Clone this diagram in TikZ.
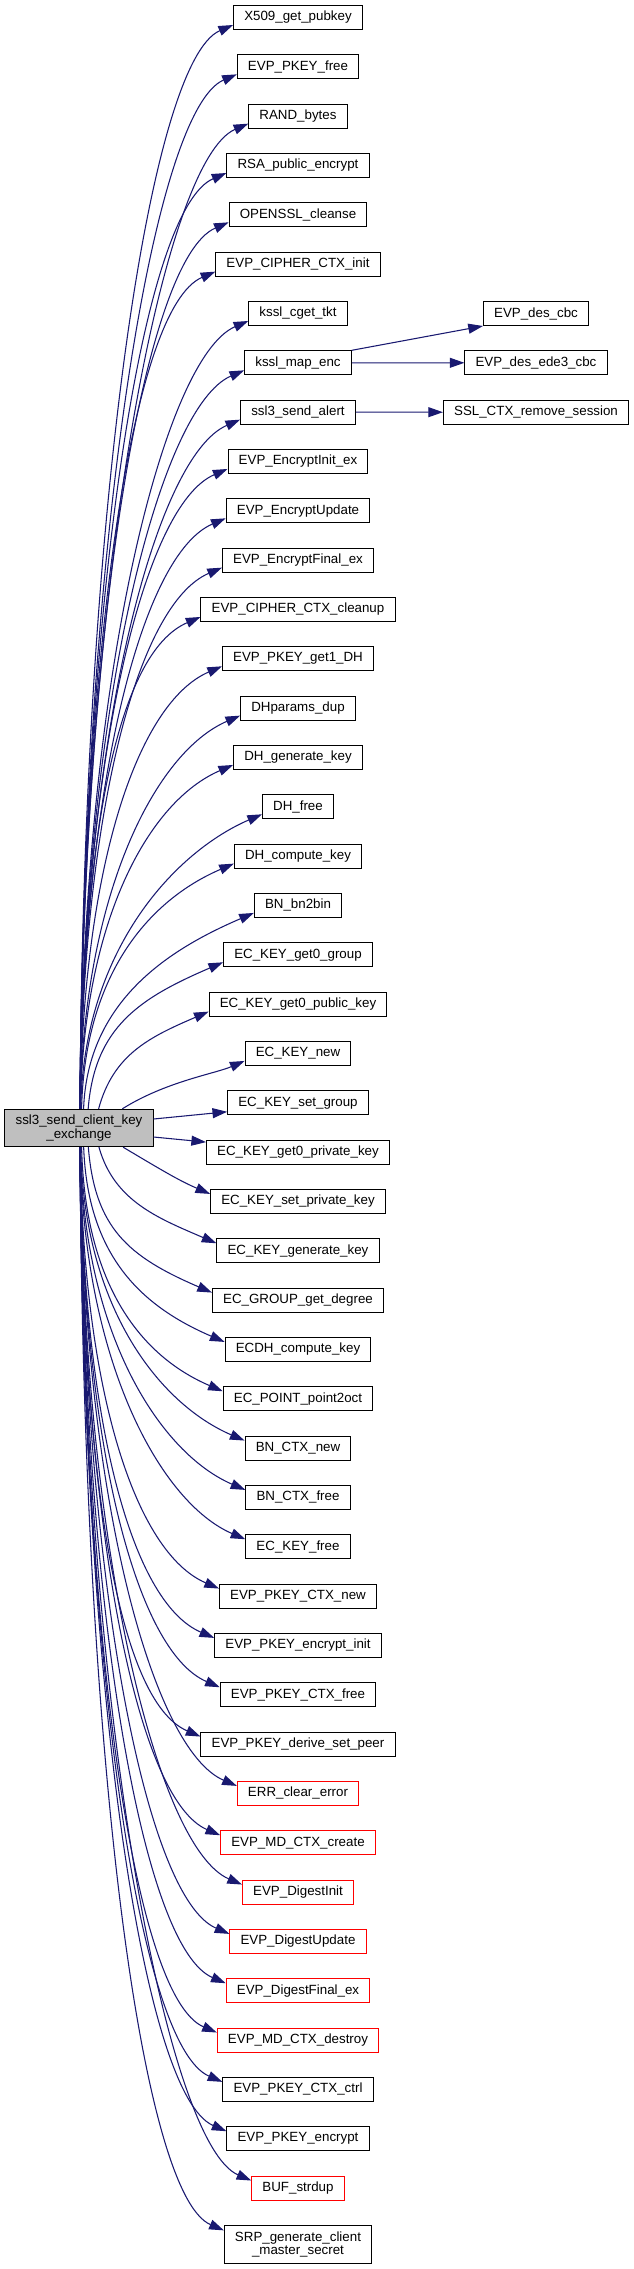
\documentclass[tikz,border=0pt]{standalone}
\usepackage{fontspec}
\setmainfont{Liberation Sans}
\usetikzlibrary{arrows.meta,calc}

\definecolor{navy}{RGB}{25,25,112}
\tikzset{
	fn/.style={draw=black, line width=0.75pt, minimum height=18pt, inner xsep=8pt, inner ysep=1pt, font=\fontsize{10pt}{10pt}\selectfont},
	fnred/.style={fn, draw=red},
	fntwo/.style={fn, align=center, minimum height=28pt},
	fnmain/.style={fntwo, fill=gray!50},
	call/.style={draw=navy, line width=0.8pt, -{Triangle[length=11pt,width=7.5pt]}},
}

\begin{document}
\begin{tikzpicture}[x=0.75pt, y=-0.75pt]
	\useasboundingbox (0,0) rectangle (634,2269);
	
	\node[fnmain] (main) at (79,1128) {ssl3\_send\_client\_key\\\_exchange};
	
	% callees, one column
	\foreach \t/\s [count=\i] in {X509\_get\_pubkey/fn, EVP\_PKEY\_free/fn, RAND\_bytes/fn,
		RSA\_public\_encrypt/fn, OPENSSL\_cleanse/fn, EVP\_CIPHER\_CTX\_init/fn, kssl\_cget\_tkt/fn,
		kssl\_map\_enc/fn, ssl3\_send\_alert/fn, EVP\_EncryptInit\_ex/fn, EVP\_EncryptUpdate/fn,
		EVP\_EncryptFinal\_ex/fn, EVP\_CIPHER\_CTX\_cleanup/fn, EVP\_PKEY\_get1\_DH/fn, DHparams\_dup/fn,
		DH\_generate\_key/fn, DH\_free/fn, DH\_compute\_key/fn, BN\_bn2bin/fn, EC\_KEY\_get0\_group/fn,
		EC\_KEY\_get0\_public\_key/fn, EC\_KEY\_new/fn, EC\_KEY\_set\_group/fn, EC\_KEY\_get0\_private\_key/fn,
		EC\_KEY\_set\_private\_key/fn, EC\_KEY\_generate\_key/fn, EC\_GROUP\_get\_degree/fn,
		ECDH\_compute\_key/fn, EC\_POINT\_point2oct/fn, BN\_CTX\_new/fn, BN\_CTX\_free/fn, EC\_KEY\_free/fn,
		EVP\_PKEY\_CTX\_new/fn, EVP\_PKEY\_encrypt\_init/fn, EVP\_PKEY\_CTX\_free/fn,
		EVP\_PKEY\_derive\_set\_peer/fn, ERR\_clear\_error/fnred, EVP\_MD\_CTX\_create/fnred,
		EVP\_DigestInit/fnred, EVP\_DigestUpdate/fnred, EVP\_DigestFinal\_ex/fnred,
		EVP\_MD\_CTX\_destroy/fnred, EVP\_PKEY\_CTX\_ctrl/fn, EVP\_PKEY\_encrypt/fn, BUF\_strdup/fnred,
		{SRP\_generate\_client\\\_master\_secret}/fntwo}{
		\pgfmathsetmacro\yy{\i<46 ? 17.5+(\i-1)*49.33 : 2244.5}
		\node[\s] (f\i) at (298,\yy) {\t};
	}
	
	\node[fn] (des) at (536,313.5) {EVP\_des\_cbc};
	\node[fn] (ede3) at (536,362.8) {EVP\_des\_ede3\_cbc};
	\node[fn] (rmsess) at (536,412.2) {SSL\_CTX\_remove\_session};
	
	% curved calls, above and below the caller
	\foreach \i in {1,...,22,25,26,...,46}{
		\pgfmathsetmacro\yy{\i<46 ? 17.5+(\i-1)*49.33 : 2244.5}
		\pgfmathsetmacro\sg{\i<23 ? -1 : 1}
		\pgfmathsetmacro\hh{abs(1128-\yy)-25}
		\pgfmathsetmacro\dx{1+42*exp(-(\hh-50)/60)}
		\pgfmathsetmacro\cx{\dx+3+40*exp(-(\hh-50)/40)}
		\pgfmathsetmacro\cb{0.55*\hh*\sg}
		\pgfmathsetmacro\k{min(84,0.6*\hh)}
		\ifnum\i<23
			\def\sa{north}\def\ea{south west}\def\es{-5}
		\else
			\def\sa{south}\def\ea{north west}\def\es{5}
		\fi
		\pgfmathsetmacro\cy{\es-0.43*\k*\sg}
		\draw[call] ($(main.\sa)+(\dx,0)$) .. controls ($(main.\sa)+(\cx,\cb)$)
			and ($(f\i.\ea)+(-\k,\cy)$) .. ($(f\i.\ea)+(0,\es)$);
	}
	
	\draw[call] ($(main.east)+(0,-9)$) -- ($(f23.west)+(0,9)$);
	\draw[call] ($(main.east)+(0,9)$) -- ($(f24.west)+(0,-10)$);
	
	\draw[call] (f8.north east) -- (des.south west);
	\draw[call] (f8.east) -- (ede3.west);
	\draw[call] (f9.east) -- (rmsess.west);
\end{tikzpicture}
\end{document}
